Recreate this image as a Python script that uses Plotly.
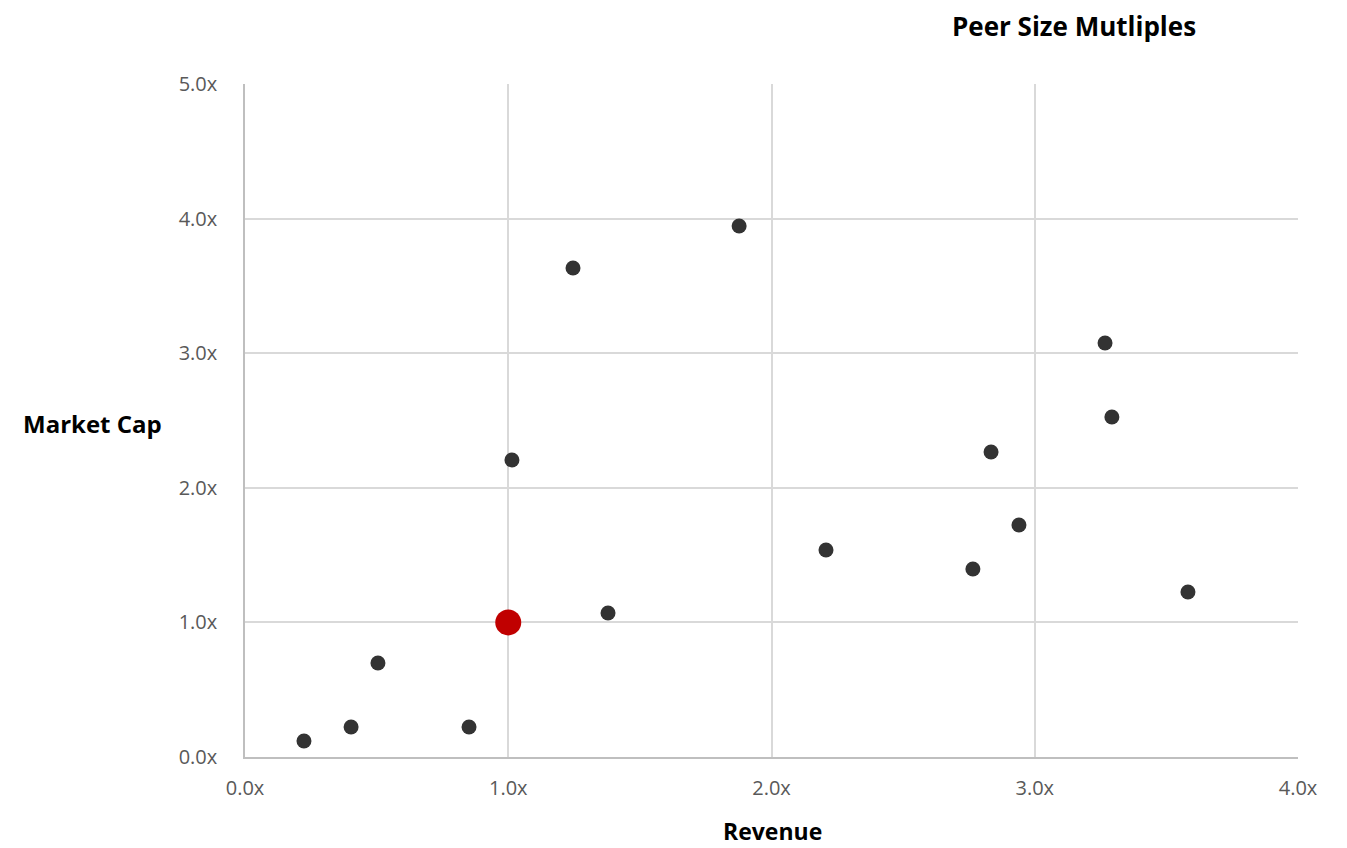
import plotly.graph_objects as go

peer_revenue = [0.224, 0.403, 0.505, 0.851, 1.014, 1.246, 1.379, 1.877, 2.207, 2.765, 2.834, 2.940, 3.267, 3.293, 3.582]
peer_mktcap = [0.119, 0.223, 0.698, 0.223, 2.207, 3.633, 1.070, 3.945, 1.538, 1.397, 2.266, 1.724, 3.076, 2.526, 1.226]
target_revenue = [1.0]
target_mktcap = [1.0]
x_ticks = [0, 1, 2, 3, 4]
y_ticks = [0, 1, 2, 3, 4, 5]

font_family = "Open Sans, Noto Sans, sans-serif"

# page body has an 8px default margin; compensate so the plot lands at the right pixels
OFF = 8
L, R, T, B = 245, 49, 84, 91
W, H = 1347 - OFF, 848 - OFF

fig = go.Figure()
fig.add_trace(go.Scatter(x=peer_revenue, y=peer_mktcap, mode="markers",
                         marker=dict(size=15, color="#333333"), showlegend=False))
fig.add_trace(go.Scatter(x=target_revenue, y=target_mktcap, mode="markers",
                         marker=dict(size=26, color="#C00000"), showlegend=False))

fig.update_layout(
    width=W, height=H,
    margin=dict(l=L - OFF, r=R, t=T - OFF, b=B),
    paper_bgcolor="white", plot_bgcolor="white",
    font=dict(family=font_family, color="#595959", size=20),
    xaxis=dict(range=[0, 4], tickvals=x_ticks, ticktext=[f"{v:.1f}x" for v in x_ticks],
               showgrid=True, gridcolor="#D9D9D9", gridwidth=1.5,
               showline=True, linecolor="#BFBFBF", linewidth=1.5, zeroline=False,
               ticks="", ticklabelstandoff=12),
    yaxis=dict(range=[0, 5], tickvals=y_ticks, ticktext=[f"{v:.1f}x" for v in y_ticks],
               showgrid=True, gridcolor="#D9D9D9", gridwidth=1.5,
               showline=True, linecolor="#BFBFBF", linewidth=1.5, zeroline=False,
               ticks="", ticklabelstandoff=22),
)

pw = 1347 - L - R
ph = 848 - T - B
labels = [
    ("<b>Peer Size Mutliples</b>", 1074, 26, 26),
    ("<b>Market Cap</b>", 92, 423, 24),
    ("<b>Revenue</b>", 772, 831, 23),
]
for text, px, py, size in labels:
    fig.add_annotation(text=text, xref="paper", yref="paper",
                       x=(px - L) / pw, y=(848 - B - py) / ph,
                       xanchor="center", yanchor="middle", showarrow=False,
                       font=dict(size=size, color="black", family=font_family))

fig.write_html("out.html")
